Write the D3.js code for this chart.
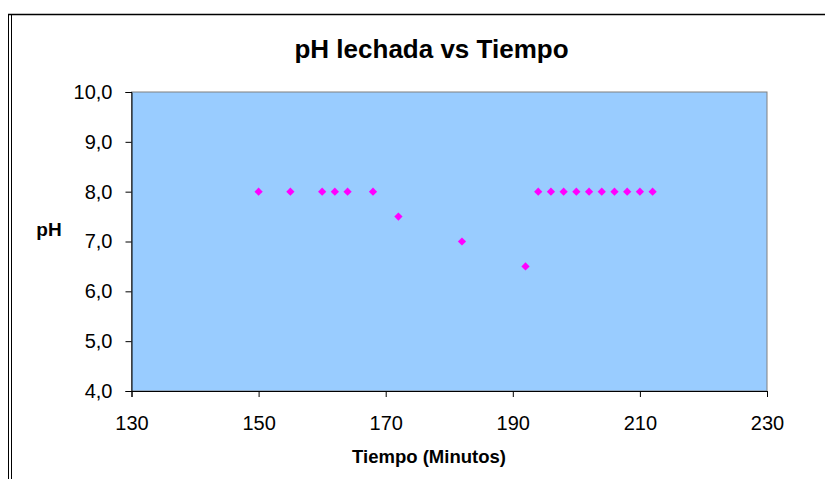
<!DOCTYPE html>
<html>
<head>
<meta charset="utf-8">
<script src="https://cdn.jsdelivr.net/npm/d3@7"></script>
<style>
  body { margin: 0; background: #fff; }
  svg { display: block; font-family: "Liberation Sans", Arial, sans-serif; }
</style>
</head>
<body>
<svg id="chart" width="825" height="479"></svg>
<script>
const tiempo = [150, 155, 160, 162, 164, 168, 172, 182, 192, 194, 196, 198, 200, 202, 204, 206, 208, 210, 212];
const ph     = [8.0, 8.0, 8.0, 8.0, 8.0, 8.0, 7.5, 7.0, 6.5, 8.0, 8.0, 8.0, 8.0, 8.0, 8.0, 8.0, 8.0, 8.0, 8.0];
const xTicks = [130, 150, 170, 190, 210, 230];
const yTicks = [4, 5, 6, 7, 8, 9, 10];
const titleText = "pH lechada vs Tiempo";
const xTitle = "Tiempo (Minutos)";
const yTitle = "pH";

const svg = d3.select("#chart");
const W = 825, H = 479;
const plot = { left: 131.5, right: 767, top: 92, bottom: 391 };

// Outer frame (double line left, single top)
svg.append("line").attr("x1", 8.5).attr("x2", 8.5).attr("y1", 14).attr("y2", H).attr("stroke", "#000").attr("stroke-width", 1);
svg.append("line").attr("x1", 11.5).attr("x2", 11.5).attr("y1", 14).attr("y2", H).attr("stroke", "#000").attr("stroke-width", 1);
svg.append("line").attr("x1", 8).attr("x2", W).attr("y1", 14.5).attr("y2", 14.5).attr("stroke", "#000").attr("stroke-width", 1.5);

const x = d3.scaleLinear().domain([130, 230]).range([plot.left, plot.right]);
const y = d3.scaleLinear().domain([4, 10]).range([plot.bottom, plot.top]);

// Plot area
svg.append("rect")
  .attr("x", plot.left).attr("y", plot.top)
  .attr("width", plot.right - plot.left).attr("height", plot.bottom - plot.top)
  .attr("fill", "#99CCFF").attr("stroke", "#808080").attr("stroke-width", 1);

const loc = d3.formatLocale({ decimal: ",", thousands: ".", grouping: [3], currency: ["", ""] });
const fy = loc.format(".1f");

// Axes
const xAxis = d3.axisBottom(x).tickValues(xTicks).tickSize(6).tickPadding(19).tickFormat(d3.format("d"));
const gx = svg.append("g").attr("transform", `translate(0,${plot.bottom})`).call(xAxis);
gx.select(".domain").attr("stroke", "#000");
gx.selectAll(".tick line").attr("stroke", "#000");
gx.selectAll("text").attr("font-size", 20).attr("fill", "#000").attr("font-family", "Liberation Sans, Arial, sans-serif");

const yAxis = d3.axisLeft(y).tickValues(yTicks).tickSize(6).tickPadding(13).tickFormat(fy);
const gy = svg.append("g").attr("transform", `translate(${plot.left},0)`).call(yAxis);
gy.select(".domain").attr("stroke", "#000");
gy.selectAll(".tick line").attr("stroke", "#000");
gy.selectAll("text").attr("font-size", 20).attr("fill", "#000").attr("font-family", "Liberation Sans, Arial, sans-serif");

// Markers (square diamond)
const diamond = {
  draw(ctx, size) {
    const r = Math.sqrt(size / 2);
    ctx.moveTo(0, -r); ctx.lineTo(r, 0); ctx.lineTo(0, r); ctx.lineTo(-r, 0); ctx.closePath();
  }
};
const sym = d3.symbol().type(diamond).size(34);
svg.append("g").selectAll("path")
  .data(tiempo.map((t, i) => ({ t, v: ph[i] })))
  .join("path")
  .attr("transform", d => `translate(${x(d.t)},${y(d.v)})`)
  .attr("d", sym)
  .attr("fill", "#FF00FF");

// Titles
svg.append("text").attr("x", 431.5).attr("y", 58).attr("text-anchor", "middle")
  .attr("font-size", 26).attr("font-weight", "bold").text(titleText);
svg.append("text").attr("x", 429).attr("y", 463).attr("text-anchor", "middle")
  .attr("font-size", 18.5).attr("font-weight", "bold").text(xTitle);
svg.append("text").attr("x", 49).attr("y", 236).attr("text-anchor", "middle")
  .attr("font-size", 19).attr("font-weight", "bold").text(yTitle);
</script>
</body>
</html>
